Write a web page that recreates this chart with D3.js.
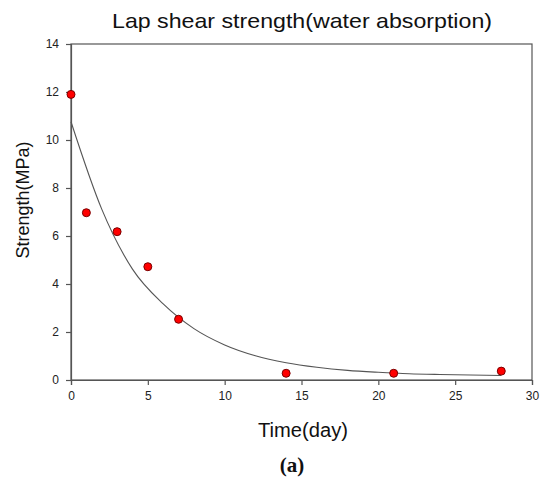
<!DOCTYPE html>
<html>
<head>
<meta charset="utf-8">
<script src="https://cdn.jsdelivr.net/npm/d3@7"></script>
<style>
  html, body { margin: 0; padding: 0; background: #fff; }
  svg { display: block; }
  text { font-family: Arial, "Liberation Sans", sans-serif; }
</style>
</head>
<body>
<svg id="chart" width="547" height="478"></svg>
<script>
// Measured lap shear strength after water immersion
const days = [0, 1, 3, 5, 7, 14, 21, 28];
const strength = [11.9, 6.97, 6.18, 4.72, 2.53, 0.28, 0.28, 0.37];

// Exponential-decay regression line, sampled along the time axis
const fitDays = [0, 2, 4, 6, 8, 10, 12, 14, 16, 18, 20, 22, 24, 26, 28];
const fitStrength = [10.76, 7.12, 4.62, 3.17, 2.14, 1.46, 1.01, 0.72, 0.53, 0.40, 0.32, 0.26, 0.23, 0.21, 0.19];

// Axis ticks
const xTicks = [0, 5, 10, 15, 20, 25, 30];
const yTicks = [0, 2, 4, 6, 8, 10, 12, 14];

const svg = d3.select("#chart");
const plotLeft = 71, plotRight = 532, plotTop = 44, plotBottom = 380;

const x = d3.scaleLinear().domain([0, 30]).range([plotLeft, plotRight]);
const y = d3.scaleLinear().domain([0, 14]).range([plotBottom, plotTop]);

const axisColor = "#555";

// Frame
svg.append("rect")
  .attr("x", plotLeft).attr("y", plotTop)
  .attr("width", plotRight - plotLeft).attr("height", plotBottom - plotTop)
  .attr("fill", "none").attr("stroke", axisColor).attr("stroke-width", 1.2);

// Bottom axis
const gx = svg.append("g")
  .attr("transform", `translate(0,${plotBottom})`)
  .call(d3.axisBottom(x).tickValues(xTicks).tickSize(5).tickPadding(6).tickFormat(d3.format("d")));
// Left axis
const gy = svg.append("g")
  .attr("transform", `translate(${plotLeft},0)`)
  .call(d3.axisLeft(y).tickValues(yTicks).tickSize(5).tickPadding(7).tickFormat(d3.format("d")));

[gx, gy].forEach(g => {
  g.select(".domain").attr("stroke", axisColor).attr("stroke-width", 1.2);
  g.selectAll(".tick line").attr("stroke", axisColor).attr("stroke-width", 1.2);
  g.selectAll(".tick text")
    .attr("fill", "#222")
    .style("font-size", "12px")
    .style("font-family", "Arial, 'Liberation Sans', sans-serif");
});

// Regression curve
const line = d3.line()
  .x((d, i) => x(fitDays[i]))
  .y(d => y(d))
  .curve(d3.curveMonotoneX);

svg.append("path")
  .datum(fitStrength)
  .attr("d", line)
  .attr("fill", "none")
  .attr("stroke", "#555")
  .attr("stroke-width", 1.1);

// Data points
svg.append("g")
  .selectAll("circle")
  .data(strength)
  .join("circle")
  .attr("cx", (d, i) => x(days[i]))
  .attr("cy", d => y(d))
  .attr("r", 4)
  .attr("fill", "#ff0000")
  .attr("stroke", "#7a0000")
  .attr("stroke-width", 1);

// Title
svg.append("text")
  .attr("x", 302).attr("y", 28)
  .attr("text-anchor", "middle")
  .attr("textLength", 380)
  .attr("lengthAdjust", "spacingAndGlyphs")
  .style("font-size", "21px")
  .attr("fill", "#111")
  .text("Lap shear strength(water absorption)");

// Axis titles
svg.append("text")
  .attr("x", 303).attr("y", 437)
  .attr("text-anchor", "middle")
  .attr("textLength", 90)
  .attr("lengthAdjust", "spacingAndGlyphs")
  .style("font-size", "20px")
  .attr("fill", "#111")
  .text("Time(day)");

svg.append("text")
  .attr("transform", "translate(29,200) rotate(-90)")
  .attr("text-anchor", "middle")
  .style("font-size", "18px")
  .attr("fill", "#111")
  .text("Strength(MPa)");

// Panel label
svg.append("text")
  .attr("x", 292).attr("y", 472)
  .attr("text-anchor", "middle")
  .style("font-family", "'Times New Roman', 'Liberation Serif', serif")
  .style("font-weight", "bold")
  .style("font-size", "21px")
  .attr("fill", "#111")
  .text("(a)");
</script>
</body>
</html>
